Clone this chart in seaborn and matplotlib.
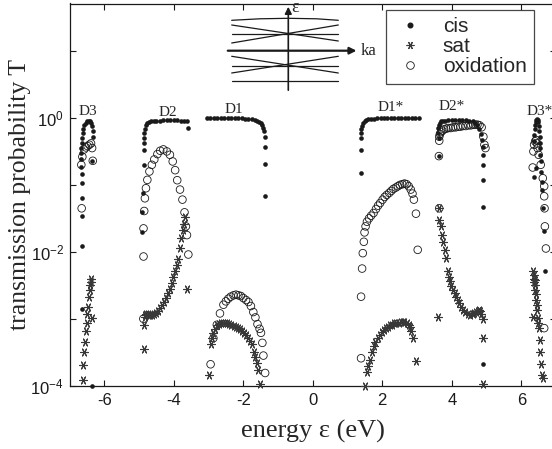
import numpy as np
import pandas as pd
import matplotlib
matplotlib.use("Agg")
import matplotlib.pyplot as plt
import seaborn as sns
from matplotlib.lines import Line2D

# ---------------- data (energy in eV, log10 of transmission T) ----------------
cis_D3_E = [-6.65, -6.65, -6.65, -6.65, -6.65, -6.65, -6.66, -6.67, -6.67, -6.66, -6.65, -6.64, -6.62,
            -6.60, -6.57, -6.53, -6.49, -6.45, -6.41, -6.37, -6.34, -6.33, -6.33, -6.36, -6.36]
cis_D3_logT = [-2.85, -1.91, -1.47, -1.19, -0.97, -0.84, -0.73, -0.62, -0.53, -0.45, -0.37, -0.30, -0.23,
               -0.16, -0.11, -0.07, -0.05, -0.04, -0.05, -0.07, -0.12, -0.20, -0.28, -0.65, -4.0]
cis_D2_E = [-4.92, -4.90, -4.88, -4.87, -4.87, -4.87, -4.86, -4.85, -4.83, -4.80, -4.76, -4.71, -4.65,
            -4.58, -4.50, -4.40, -4.30, -4.20, -4.10, -4.00, -3.90, -3.80, -3.70, -3.62, -3.58]
cis_D2_logT = [-1.70, -1.40, -1.12, -0.70, -0.48, -0.38, -0.30, -0.22, -0.16, -0.11, -0.08, -0.06, -0.05,
               -0.04, -0.04, -0.04, -0.03, -0.03, -0.03, -0.03, -0.03, -0.04, -0.04, -0.05, -0.145]
cis_D1_E = [-3.05, -2.95, -2.85, -2.75, -2.65, -2.55, -2.45, -2.35, -2.25, -2.15, -2.05, -1.95, -1.85,
            -1.75, -1.67, -1.60, -1.54, -1.49, -1.45, -1.42, -1.39, -1.37, -1.37, -1.37, -1.37]
cis_D1_logT = [0.0, 0.0, 0.0, 0.0, 0.0, 0.0, 0.0, 0.0, 0.0, 0.0, -0.005, -0.01, -0.01,
               -0.02, -0.03, -0.04, -0.06, -0.08, -0.11, -0.15, -0.20, -0.28, -0.43, -0.69, -1.17]
cis_D1s_E = [1.39, 1.39, 1.39, 1.39, 1.40, 1.42, 1.45, 1.49, 1.54, 1.60, 1.68, 1.76, 1.85,
             1.95, 2.05, 2.15, 2.25, 2.35, 2.45, 2.55, 2.65, 2.75, 2.85, 2.95, 3.05]
cis_D1s_logT = [-0.82, -0.48, -0.30, -0.23, -0.17, -0.12, -0.08, -0.05, -0.03, -0.02, -0.01, -0.01, 0.0,
                0.0, 0.0, 0.0, 0.0, 0.0, 0.0, 0.0, 0.0, 0.0, 0.0, 0.0, 0.0]
cis_D2s_E = [3.60, 3.61, 3.63, 3.66, 3.70, 3.75, 3.82, 3.90, 4.00, 4.10, 4.20, 4.30, 4.40, 4.50,
             4.60, 4.68, 4.74, 4.79, 4.83, 4.87, 4.89, 4.90, 4.90, 4.91, 4.91, 4.91, 3.64, 3.62]
cis_D2s_logT = [-0.22, -0.15, -0.10, -0.07, -0.05, -0.04, -0.04, -0.03, -0.03, -0.03, -0.03, -0.03, -0.03, -0.04,
                -0.05, -0.07, -0.10, -0.16, -0.24, -0.33, -0.43, -0.55, -0.70, -0.93, -1.33, -3.68, -0.57, -0.30]
cis_D3s_E = [6.36, 6.38, 6.40, 6.41, 6.42, 6.43, 6.45, 6.47, 6.49, 6.51, 6.52, 6.53, 6.54, 6.55,
             6.55, 6.56, 6.58, 6.60, 6.61, 6.63, 6.66, 6.68, 6.37, 6.43]
cis_D3s_logT = [-0.35, -0.25, -0.17, -0.10, -0.06, -0.03, -0.02, -0.03, -0.06, -0.12, -0.20, -0.28, -0.37, -0.45,
                -0.55, -0.65, -0.80, -0.95, -1.07, -1.35, -1.69, -2.29, -0.88, -0.75]

sat_D3_E = [-6.62, -6.60, -6.58, -6.55, -6.52, -6.50, -6.49, -6.46, -6.43, -6.41, -6.40, -6.39, -6.38, -6.36]
sat_D3_logT = [-3.91, -3.69, -3.50, -3.34, -3.19, -3.06, -2.93, -2.82, -2.67, -2.57, -2.50, -2.45, -2.40, -2.99]
sat_D2_E = [-4.87, -4.86, -4.84, -4.82, -4.79, -4.75, -4.71, -4.67, -4.62, -4.57, -4.52, -4.46, -4.40, -4.34,
            -4.28, -4.22, -4.16, -4.11, -4.06, -4.01, -3.96, -3.91, -3.87, -3.82, -3.78, -3.74, -3.71, -3.69, -3.61]
sat_D2_logT = [-3.45, -3.09, -2.97, -2.94, -2.93, -2.93, -2.94, -2.94, -2.94, -2.93, -2.91, -2.88, -2.84, -2.80,
               -2.75, -2.69, -2.62, -2.56, -2.47, -2.38, -2.29, -2.20, -2.10, -1.95, -1.80, -1.68, -1.58, -1.48, -2.55]
sat_D1_E = [-2.98, -2.94, -2.90, -2.86, -2.81, -2.76, -2.70, -2.64, -2.58, -2.52, -2.46, -2.40, -2.34, -2.28,
            -2.22, -2.16, -2.10, -2.04, -1.98, -1.92, -1.86, -1.80, -1.75, -1.69, -1.65, -1.61, -1.57, -1.52]
sat_D1_logT = [-3.84, -3.38, -3.28, -3.21, -3.15, -3.10, -3.08, -3.07, -3.06, -3.06, -3.07, -3.08, -3.10, -3.11,
               -3.12, -3.14, -3.16, -3.18, -3.21, -3.24, -3.28, -3.33, -3.38, -3.49, -3.57, -3.66, -3.76, -3.97]
sat_D1s_E = [1.51, 1.55, 1.60, 1.65, 1.70, 1.75, 1.80, 1.87, 1.93, 1.99, 2.05, 2.11, 2.17, 2.23,
             2.29, 2.35, 2.41, 2.47, 2.53, 2.59, 2.64, 2.70, 2.76, 2.80, 2.84, 2.88, 2.97]
sat_D1s_logT = [-4.0, -3.79, -3.70, -3.62, -3.49, -3.41, -3.35, -3.29, -3.24, -3.20, -3.17, -3.14, -3.12, -3.10,
                -3.09, -3.07, -3.06, -3.06, -3.05, -3.05, -3.05, -3.06, -3.09, -3.13, -3.18, -3.29, -3.63]
sat_D2s_E = [3.61, 3.64, 3.64, 3.69, 3.73, 3.76, 3.80, 3.84, 3.88, 3.92, 3.95, 3.99, 4.03, 4.08, 4.12, 4.17,
             4.22, 4.27, 4.33, 4.39, 4.46, 4.53, 4.60, 4.65, 4.70, 4.75, 4.79, 4.81, 4.84, 4.89, 4.91, 4.91]
sat_D2s_logT = [-2.97, -1.35, -1.52, -1.62, -1.75, -1.86, -1.98, -2.09, -2.29, -2.37, -2.44, -2.51, -2.57, -2.62,
                -2.67, -2.72, -2.77, -2.82, -2.87, -2.90, -2.93, -2.94, -2.93, -2.92, -2.90, -2.88, -2.87, -2.88,
                -2.93, -3.01, -3.29, -3.97]
sat_D3s_E = [6.35, 6.36, 6.37, 6.38, 6.39, 6.40, 6.41, 6.42, 6.43, 6.44, 6.45, 6.47, 6.49, 6.52, 6.54,
             6.55, 6.57, 6.59, 6.62, 6.35]
sat_D3s_logT = [-2.29, -2.34, -2.40, -2.45, -2.42, -2.50, -2.57, -2.63, -2.72, -2.80, -2.87, -2.99, -3.06, -3.14,
                -3.31, -3.49, -3.67, -3.84, -3.89, -2.97]

ox_D3_E = [-6.65, -6.66, -6.63, -6.58, -6.53, -6.48, -6.43, -6.38, -6.35, -6.33]
ox_D3_logT = [-1.35, -0.70, -0.58, -0.47, -0.44, -0.42, -0.40, -0.38, -0.45, -0.64]
ox_D2_E = [-4.875, -4.87, -4.87, -4.85, -4.83, -4.80, -4.76, -4.70, -4.63, -4.56, -4.47, -4.39, -4.30, -4.20,
           -4.11, -4.03, -3.96, -3.90, -3.82, -3.75, -3.69, -3.65, -3.62, -3.58]
ox_D2_logT = [-3.0, -2.07, -1.65, -1.39, -1.20, -1.05, -0.925, -0.80, -0.70, -0.62, -0.54, -0.49, -0.47, -0.50,
              -0.55, -0.65, -0.78, -0.93, -1.07, -1.22, -1.41, -1.62, -1.75, -2.04]
ox_D1_E = [-2.94, -2.86, -2.76, -2.67, -2.57, -2.50, -2.43, -2.36, -2.28, -2.21, -2.14, -2.07, -2.00, -1.92,
           -1.85, -1.78, -1.71, -1.65, -1.59, -1.53, -1.49, -1.45, -1.42, -1.37]
ox_D1_logT = [-3.68, -3.29, -3.09, -2.92, -2.79, -2.74, -2.70, -2.67, -2.65, -2.64, -2.65, -2.66, -2.69, -2.72,
              -2.75, -2.81, -2.90, -2.98, -3.08, -3.15, -3.21, -3.36, -3.55, -3.81]
ox_D1s_E = [1.39, 1.39, 1.42, 1.44, 1.47, 1.49, 1.52, 1.56, 1.62, 1.68, 1.75, 1.82, 1.88, 1.94, 2.01, 2.07,
            2.13, 2.20, 2.26, 2.32, 2.39, 2.45, 2.51, 2.58, 2.64, 2.70, 2.76, 2.82, 2.87, 2.91, 2.97, 3.02]
ox_D1s_logT = [-3.59, -2.67, -2.25, -2.02, -1.85, -1.71, -1.62, -1.55, -1.50, -1.46, -1.42, -1.36, -1.31, -1.27,
               -1.22, -1.18, -1.15, -1.12, -1.09, -1.06, -1.04, -1.02, -1.00, -0.99, -0.98, -0.99, -1.02, -1.07,
               -1.13, -1.22, -1.43, -1.97]
ox_D2s_E = [3.64, 3.63, 3.64, 3.64, 3.66, 3.69, 3.73, 3.78, 3.84, 3.90, 3.97, 4.04, 4.11, 4.18, 4.25, 4.32,
            4.40, 4.48, 4.55, 4.62, 4.68, 4.74, 4.80, 4.86, 4.91, 4.94, 4.97]
ox_D2s_logT = [-1.35, -0.57, -0.34, -0.28, -0.24, -0.21, -0.19, -0.17, -0.16, -0.15, -0.15, -0.14, -0.14, -0.13,
               -0.13, -0.12, -0.12, -0.11, -0.11, -0.10, -0.10, -0.10, -0.11, -0.14, -0.28, -0.40, -0.45]
ox_D3s_E = [6.33, 6.35, 6.37, 6.40, 6.43, 6.45, 6.47, 6.50, 6.56, 6.62, 6.66, 6.66, 6.67, 6.68, 6.71, 6.66]
ox_D3s_logT = [-0.74, -0.50, -0.40, -0.35, -0.33, -0.38, -0.45, -0.55, -0.70, -0.90, -1.02, -1.17, -1.35,
               -1.62, -1.95, -3.14]

band_labels = ["D3", "D2", "D1", "D1*", "D2*", "D3*"]
band_label_E = [-6.48, -4.16, -2.26, 2.23, 4.0, 6.53]
band_label_logT = [0.10, 0.08, 0.12, 0.15, 0.17, 0.09]

x_ticks = [-6, -4, -2, 0, 2, 4, 6]
y_major = [1e-4, 1e-2, 1e0]
y_minor = [1e-3, 1e-1, 1e1]

# inset band-structure sketch (in inset's own drawing units)
inset_top_arc_x = [0, 28, 56.6, 85, 106.6]
inset_top_arc_y = [-1.3, 0.2, 0.7, 0.2, -1.3]
inset_seg = [  # (x0, y0, x1, y1)
    (0, -6.0, 106.6, -22.0),
    (0, -24.0, 106.6, -6.0),
    (0, -15.0, 106.6, -15.0),
    (0, -37.3, 106.6, -54.0),
    (0, -54.0, 106.6, -37.3),
    (0, -46.7, 106.6, -46.7),
    (0, -61.7, 106.6, -61.7),
]

# ---------------- style ----------------
sns.set_theme(style="ticks")
plt.rcParams["font.family"] = ["Liberation Sans", "DejaVu Sans"]
plt.rcParams["axes.unicode_minus"] = False
plt.rcParams["mathtext.fontset"] = "custom"
plt.rcParams["mathtext.rm"] = "Liberation Sans"
plt.rcParams["mathtext.it"] = "Liberation Sans:italic"

fig = plt.figure(figsize=(5.52, 4.49), dpi=100)
W, H = 552.0, 449.0
ax = fig.add_axes([69.5 / W, 1 - 385.7 / H, 486.5 / W, (385.7 - 3.5) / H])

def frame(Es, Ls):
    return pd.DataFrame({"E": np.concatenate(Es), "T": np.power(10.0, np.concatenate(Ls))})

cis = frame([cis_D3_E, cis_D2_E, cis_D1_E, cis_D1s_E, cis_D2s_E, cis_D3s_E],
            [cis_D3_logT, cis_D2_logT, cis_D1_logT, cis_D1s_logT, cis_D2s_logT, cis_D3s_logT])
sat = frame([sat_D3_E, sat_D2_E, sat_D1_E, sat_D1s_E, sat_D2s_E, sat_D3s_E],
            [sat_D3_logT, sat_D2_logT, sat_D1_logT, sat_D1s_logT, sat_D2s_logT, sat_D3s_logT])
ox = frame([ox_D3_E, ox_D2_E, ox_D1_E, ox_D1s_E, ox_D2s_E, ox_D3s_E],
           [ox_D3_logT, ox_D2_logT, ox_D1_logT, ox_D1s_logT, ox_D2s_logT, ox_D3s_logT])

ast_marker = (6, 2, 90)
sns.scatterplot(data=ox, x="E", y="T", ax=ax, marker="o", s=30, color="k",
                facecolor="none", edgecolor="k", linewidth=0.6, clip_on=False, zorder=3)
sns.scatterplot(data=sat, x="E", y="T", ax=ax, marker=ast_marker, s=32, color="#383838",
                linewidth=0.8, clip_on=False, zorder=4)
sns.scatterplot(data=cis, x="E", y="T", ax=ax, marker="o", s=11, color="k",
                edgecolor="k", linewidth=0, clip_on=False, zorder=5)

ax.set_yscale("log")
ax.set_xlim(-7, 7)
ax.set_ylim(1e-4, 10 ** 1.71)
ax.set_xticks(x_ticks)
ax.set_xticklabels([str(t) for t in x_ticks])
ax.set_yticks(y_major)
ax.set_yticks(y_minor, minor=True)
ax.yaxis.set_minor_formatter(matplotlib.ticker.NullFormatter())
ax.tick_params(axis="both", which="both", direction="in", length=4.5, width=0.8,
               top=True, right=True, labelsize=12, colors="k", pad=5)
ax.tick_params(axis="y", which="major", pad=4)
for sp in ax.spines.values():
    sp.set_linewidth(0.9)
    sp.set_color("k")

serif = ["Liberation Serif", "DejaVu Serif"]
ax.set_xlabel("energy ε (eV)", family=serif, fontsize=19, labelpad=9)
ax.set_ylabel("transmission probability T", family=serif, fontsize=18.5)
ax.yaxis.set_label_coords(-0.079, 0.5)

for lab, e, lt in zip(band_labels, band_label_E, band_label_logT):
    ax.text(e, 10 ** lt, lab, family=serif, fontsize=11, ha="center", va="center", clip_on=False)

handles = [
    Line2D([], [], marker="o", ls="none", color="k", markersize=3.3),
    Line2D([], [], marker=ast_marker, ls="none", color="#383838", markersize=5.6, markeredgewidth=0.8),
    Line2D([], [], marker="o", ls="none", markerfacecolor="none", markeredgecolor="k",
           markersize=5.5, markeredgewidth=0.6),
]
leg = fig.legend(handles, ["cis", "sat", "oxidation"], loc="upper right",
                 bbox_to_anchor=(534 / W, 1 - 10 / H), bbox_transform=fig.transFigure,
                 fontsize=15, frameon=True, fancybox=False, borderaxespad=0,
                 handlelength=1.6, handletextpad=0.8, labelspacing=0.05, borderpad=0.35)
leg.get_frame().set_edgecolor("k")
leg.get_frame().set_linewidth(0.9)

# inset band sketch: axes covers pixels x 231.7..338.3 horizontally (0..106.6 units), y 19..81.7
iax = fig.add_axes([220 / W, 1 - 96 / H, 165 / W, 96 / H])
iax.set_xlim(-11.7, 153.3)
iax.set_ylim(-77, 19)
iax.axis("off")
iax.plot(inset_top_arc_x, inset_top_arc_y, color="k", lw=0.9)
for x0, y0, x1, y1 in inset_seg:
    iax.plot([x0, x1], [y0, y1], color="k", lw=0.9)
iax.annotate("", xy=(127.6, -31.7), xytext=(-6.7, -31.7),
             arrowprops=dict(arrowstyle="-|>", color="k", lw=1.6, mutation_scale=10))
iax.annotate("", xy=(56.6, 15), xytext=(56.6, -74),
             arrowprops=dict(arrowstyle="-|>", color="k", lw=1.2, mutation_scale=10))
iax.text(60, 12, "ε", family=serif, fontsize=13, ha="left", va="center")
iax.text(129.3, -31.7, "ka", family=serif, fontsize=12, ha="left", va="center")

fig.savefig("out.png", dpi=100)
